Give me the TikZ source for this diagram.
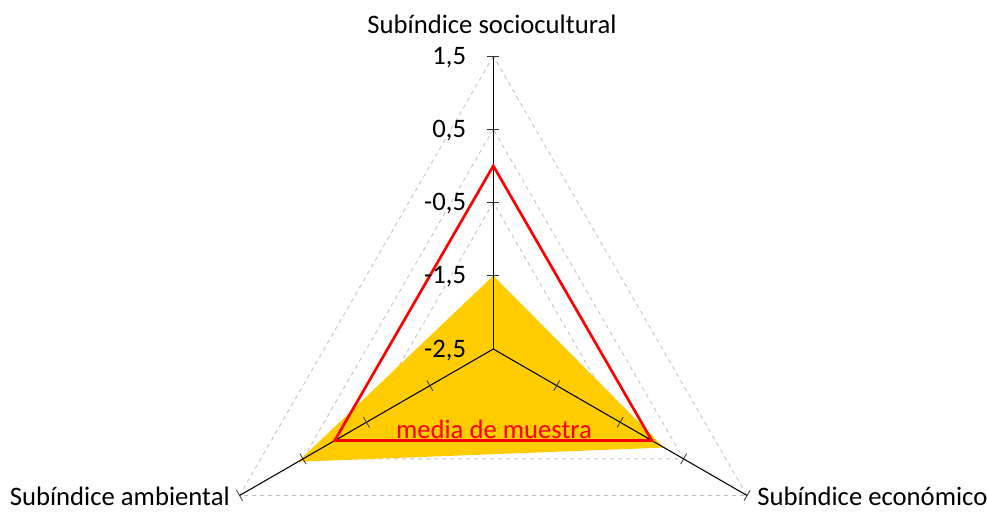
\documentclass[tikz,border=0pt]{standalone}
\usepackage{fontspec}
\setmainfont{Carlito}
\usetikzlibrary{calc}
\definecolor{chartgold}{RGB}{255,204,0}
\definecolor{gridgray}{RGB}{190,190,190}
\newcommand{\unitpx}{73.25}

\begin{document}
\begin{tikzpicture}[x=0.75pt,y=-0.75pt,
	gridline/.style={gridgray,dashed,line width=0.6pt},
	axisline/.style={black,line width=0.8pt},
	tickmark/.style={black!80,line width=0.6pt},
	axislabel/.style={font=\fontsize{20}{24}\selectfont,inner sep=0pt},
	meanline/.style={red,line width=2pt,line join=miter}]
	\useasboundingbox (0,0) rectangle (987,511);
	\coordinate (O) at (493.3,349);
	% axis ends (value 1,5)
	\coordinate (top) at ($(O)+(-90:4*\unitpx)$);
	\coordinate (left) at ($(O)+(150:4*\unitpx)$);
	\coordinate (right) at ($(O)+(30:4*\unitpx)$);
	% grid
	\foreach \k in {1,2,3,4}
		\draw [gridline] ($(O)+(-90:\k*\unitpx)$) -- ($(O)+(150:\k*\unitpx)$) -- ($(O)+(30:\k*\unitpx)$) -- cycle;
	% sample
	\fill [chartgold] ($(O)+(-90:1*\unitpx)$) -- ($(O)+(150:3.08*\unitpx)$) -- ($(O)+(30:2.69*\unitpx)$) -- cycle;
	% axes
	\draw [axisline,line width=1.1pt] (O) -- (top);
	\draw [axisline] (O) -- (left);
	\draw [axisline] (O) -- (right);
	\foreach \a in {-90,150,30}
		\foreach \k in {1,2,3,4}
			\draw [tickmark] ($(O)+(\a:\k*\unitpx)+(\a+90:6)$) -- ($(O)+(\a:\k*\unitpx)+(\a-90:6)$);
	% mean
	\draw [meanline] ($(O)+(-90:2.5*\unitpx)$) -- ($(O)+(150:2.5*\unitpx)$) -- ($(O)+(30:2.5*\unitpx)$) -- cycle;
	% scale
	\foreach \v/\k in {{1,5}/4,{0,5}/3,{-0,5}/2,{-1,5}/1,{-2,5}/0}
		\node [axislabel,anchor=base east] (val\k) at ($(O)+(-90:\k*\unitpx)+(-27,8)$) {\v};
	\node [axislabel,anchor=base] (socio) at (492,33) {Subíndice sociocultural};
	\node [axislabel,anchor=base east] (amb) at (230,505) {Subíndice ambiental};
	\node [axislabel,anchor=base west] (eco) at (757,505) {Subíndice económico};
	\node [axislabel,anchor=base,text=red] (mean) at (494,438) {media de muestra};
\end{tikzpicture}
\end{document}
